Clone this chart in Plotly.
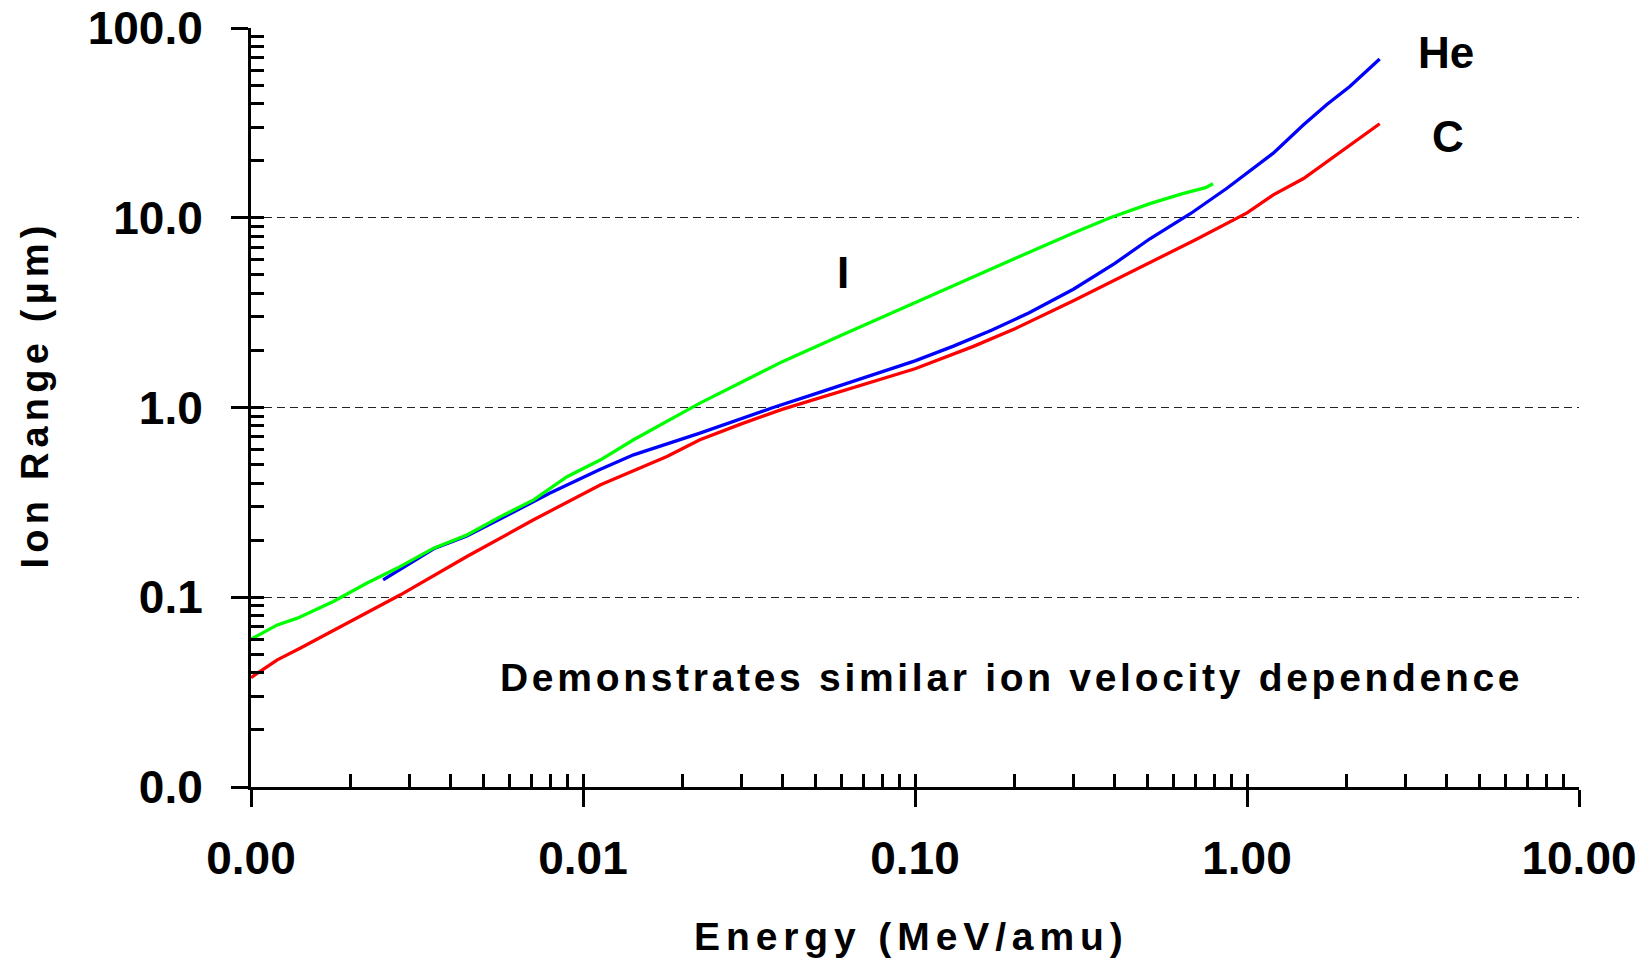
import plotly.graph_objects as go

# ---- data (Energy in MeV/amu, Range in micrometres) ----
i_energy = [0.001, 0.0012, 0.00138, 0.00177, 0.00223, 0.00275, 0.00355, 0.00447, 0.00564,
            0.0071, 0.00895, 0.0113, 0.0142, 0.0179, 0.0225, 0.03, 0.04, 0.06, 0.08, 0.1,
            0.15, 0.2, 0.3, 0.387, 0.51, 0.64, 0.75, 0.79]
i_range = [0.0601, 0.0715, 0.0776, 0.0949, 0.1186, 0.142, 0.1815, 0.213, 0.266,
           0.326, 0.432, 0.530, 0.676, 0.85, 1.055, 1.36, 1.75, 2.4, 3.0, 3.6,
           4.9, 6.1, 8.3, 10.0, 11.86, 13.4, 14.4, 15.1]

he_energy = [0.0025, 0.00355, 0.00447, 0.00564, 0.0071, 0.00796, 0.0112, 0.0142, 0.0225,
             0.0374, 0.05, 0.07, 0.1, 0.13, 0.17, 0.22, 0.3, 0.4, 0.51, 0.675, 0.87, 1.2,
             1.48, 1.74, 2.04, 2.51]
he_range = [0.1236, 0.18, 0.21, 0.26, 0.318, 0.354, 0.470, 0.563, 0.733,
            1.0, 1.18, 1.43, 1.76, 2.1, 2.55, 3.15, 4.2, 5.75, 7.75, 10.5, 14.3, 21.9,
            30.9, 39.5, 49.2, 68.7]

c_energy = [0.001, 0.0012, 0.00141, 0.00199, 0.00282, 0.00447, 0.0071, 0.0113, 0.0179,
            0.0225, 0.03, 0.04, 0.055, 0.075, 0.1, 0.15, 0.2, 0.3, 0.4, 0.5, 0.7, 1.0,
            1.2, 1.48, 1.74, 2.04, 2.51]
c_range = [0.0377, 0.0468, 0.054, 0.0745, 0.103, 0.164, 0.256, 0.392, 0.552,
           0.676, 0.82, 0.98, 1.16, 1.37, 1.6, 2.1, 2.6, 3.65, 4.7, 5.75, 7.66, 10.6,
           13.2, 16.1, 19.8, 24.3, 31.3]

x_tick_vals = [0.001, 0.01, 0.1, 1, 10]
x_tick_text = ["0.00", "0.01", "0.10", "1.00", "10.00"]
y_tick_vals = [0.01, 0.1, 1, 10, 100]
y_tick_text = ["0.0", "0.1", "1.0", "10.0", "100.0"]

FONT = "Liberation Sans, Arial, sans-serif"

minor_x = [m * 10 ** k for k in range(-3, 1) for m in range(2, 10)]
minor_y = [m * 10 ** k for k in range(-2, 2) for m in range(2, 10)]

LW = 3.3
fig = go.Figure()
fig.add_trace(go.Scatter(x=c_energy, y=c_range, mode="lines",
                         line=dict(color="#ff0000", width=LW), name="C"))
fig.add_trace(go.Scatter(x=he_energy, y=he_range, mode="lines",
                         line=dict(color="#0000ff", width=LW), name="He"))
fig.add_trace(go.Scatter(x=i_energy, y=i_range, mode="lines",
                         line=dict(color="#00ff00", width=LW), name="I"))
# invisible trace to activate overlay axes (inner half of major ticks)
fig.add_trace(go.Scatter(x=[0.01], y=[1], xaxis="x2", yaxis="y2", mode="markers",
                         marker=dict(opacity=0), hoverinfo="skip", showlegend=False))

tickfont = dict(family=FONT, size=46, color="black", weight="bold")

fig.update_layout(
    width=1650, height=966,
    margin=dict(l=251, r=71, t=28, b=179, autoexpand=False),
    paper_bgcolor="white", plot_bgcolor="white",
    showlegend=False,
    xaxis=dict(type="log", range=[-3, 1], tickmode="array", tickvals=x_tick_vals,
               ticktext=x_tick_text, ticks="outside", ticklen=17, tickwidth=3,
               tickcolor="black", showline=True, linewidth=3, linecolor="black",
               showgrid=False, zeroline=False, tickfont=tickfont, ticklabelstandoff=12,
               automargin=False,
               minor=dict(tickmode="array", tickvals=minor_x, ticks="inside", ticklen=13,
                          tickwidth=3, tickcolor="black", showgrid=False)),
    yaxis=dict(type="log", range=[-2, 2], tickmode="array", tickvals=y_tick_vals,
               ticktext=y_tick_text, ticks="outside", ticklen=17, tickwidth=3,
               tickcolor="black", showline=True, linewidth=3, linecolor="black",
               showgrid=True, gridcolor="#222222", gridwidth=1.2, griddash="8px,5px",
               zeroline=False, tickfont=tickfont, ticklabelstandoff=19,
               automargin=False,
               minor=dict(tickmode="array", tickvals=minor_y, ticks="inside", ticklen=13,
                          tickwidth=3, tickcolor="black", showgrid=False)),
    xaxis2=dict(type="log", range=[-3, 1], overlaying="x", anchor="y2", side="bottom",
                tickmode="array", tickvals=x_tick_vals, ticks="inside", ticklen=13,
                tickwidth=3, tickcolor="black", showticklabels=False, showgrid=False,
                showline=False, zeroline=False, automargin=False),
    yaxis2=dict(type="log", range=[-2, 2], overlaying="y", anchor="x2", side="left",
                tickmode="array", tickvals=y_tick_vals, ticks="inside", ticklen=13,
                tickwidth=3, tickcolor="black", showticklabels=False, showgrid=False,
                showline=False, zeroline=False, automargin=False),
)

ann_font_big = dict(family=FONT, size=44, color="black", weight="bold")

annotations = [
    dict(text="<span style='letter-spacing:5.9px'>Energy (MeV/amu)</span>",
         xref="paper", yref="paper", x=0.497, y=-0.1976, xanchor="center", yanchor="middle",
         showarrow=False, font=dict(family=FONT, size=39, color="black", weight="bold")),
    dict(text="<span style='letter-spacing:5.2px'>Ion Range (µm)</span>",
         xref="paper", yref="paper", x=-0.1627, y=0.5171, xanchor="center", yanchor="middle",
         textangle=-90, showarrow=False,
         font=dict(family=FONT, size=38, color="black", weight="bold")),
    dict(text="<span style='letter-spacing:3.7px'>Demonstrates similar ion velocity dependence</span>",
         xref="paper", yref="paper", x=0.573, y=0.1443, xanchor="center", yanchor="middle",
         showarrow=False, font=dict(family=FONT, size=39, color="black", weight="bold")),
    dict(text="He", x=0.599, y=1.872, xref="x", yref="y", showarrow=False,
         xanchor="center", yanchor="middle", font=ann_font_big),
    dict(text="C", x=0.605, y=1.427, xref="x", yref="y", showarrow=False,
         xanchor="center", yanchor="middle", font=ann_font_big),
    dict(text="I", x=-1.216, y=0.713, xref="x", yref="y", showarrow=False,
         xanchor="center", yanchor="middle", font=ann_font_big),
]
fig.update_layout(annotations=annotations)

fig.write_html("out.html")
